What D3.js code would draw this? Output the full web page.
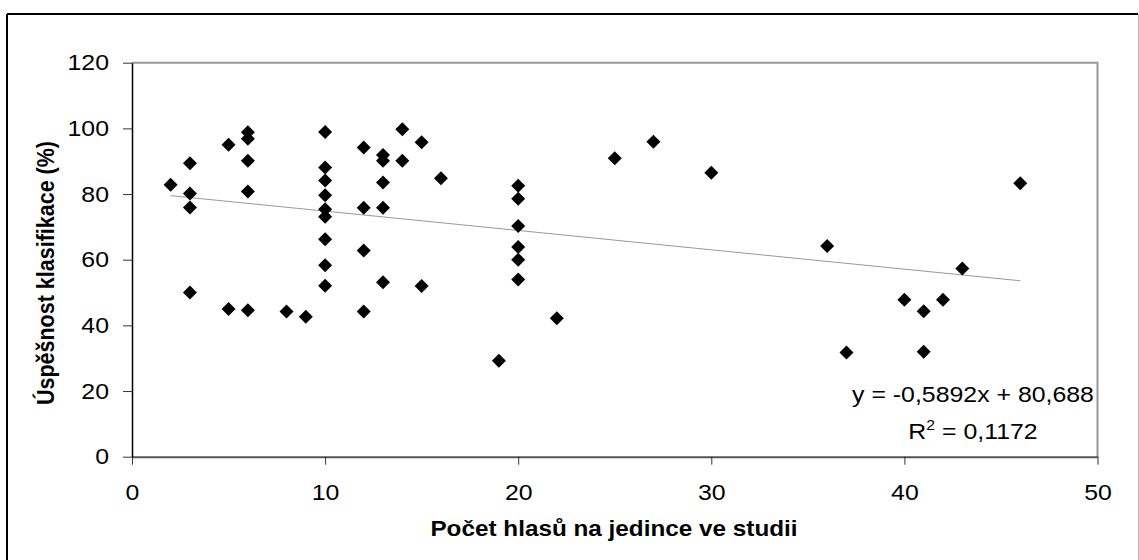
<!DOCTYPE html>
<html>
<head>
<meta charset="utf-8">
<script src="https://cdn.jsdelivr.net/npm/d3@7"></script>
<style>
  body { margin: 0; background: #fff; }
  text { font-family: "Liberation Sans", Arial, sans-serif; fill: #000; }
</style>
</head>
<body>
<div id="chart"></div>
<script>
// hlasy na jedince (x) a uspesnost klasifikace v % (y)
const voices = [2, 3, 3, 3, 3, 5, 5, 6, 6, 6, 6, 6, 8, 9,
                10, 10, 10, 10, 10, 10, 10, 10, 10,
                12, 12, 12, 12, 13, 13, 13, 13, 13, 14, 14, 15, 15, 16,
                19, 20, 20, 20, 20, 20, 20, 22, 25, 27, 30,
                36, 37, 40, 41, 41, 42, 43, 46];
const success = [82.8, 89.4, 80.2, 75.9, 50, 95, 45, 98.8, 96.8, 90.1, 80.8, 44.6, 44.2, 42.6,
                 98.9, 88.1, 84.1, 79.6, 75.4, 73.1, 66.2, 58.3, 52.1,
                 94.2, 75.8, 62.8, 44.2, 91.9, 90.1, 83.5, 75.8, 53.1, 99.7, 90.1, 95.8, 52, 84.8,
                 29.2, 82.5, 78.6, 70.3, 63.9, 60, 54, 42.2, 90.9, 95.9, 86.5,
                 64.2, 31.7, 47.8, 44.3, 32, 47.8, 57.3, 83.3];
const xTicks = [0, 10, 20, 30, 40, 50];
const yTicks = [0, 20, 40, 60, 80, 100, 120];
const slope = -0.5892, intercept = 80.688;
const eqLabel = "y = -0,5892x + 80,688";
const r2Value = " = 0,1172";
const xTitle = "Počet hlasů na jedince ve studii";
const yTitle = "Úspěšnost klasifikace (%)";

const W = 1139, H = 560;
const stretch = 1.13; // text in the picture is a bit wider than tall
const plot = {left: 132, right: 1097.5, top: 62.7, bottom: 456.7};

const svg = d3.select("#chart").append("svg")
    .attr("width", W).attr("height", H);

// outer frame
svg.append("line").attr("x1", 7).attr("y1", 14).attr("x2", 7).attr("y2", H)
    .attr("stroke", "#000").attr("stroke-width", 2);
svg.append("line").attr("x1", 7).attr("y1", 14).attr("x2", 1138).attr("y2", 14)
    .attr("stroke", "#000").attr("stroke-width", 2);
svg.append("line").attr("x1", 1138.5).attr("y1", 14).attr("x2", 1138.5).attr("y2", H)
    .attr("stroke", "#bbb").attr("stroke-width", 1);

let xScale = d3.scaleLinear().domain([0, 50]).range([plot.left, plot.right]);
let yScale = d3.scaleLinear().domain([0, 120]).range([plot.bottom, plot.top]);

// top + right border of plot area
svg.append("path")
    .attr("d", `M${plot.left},${plot.top}H${plot.right}V${plot.bottom}`)
    .attr("fill", "none").attr("stroke", "#999").attr("stroke-width", 2);

function stretchText(sel, anchorX) {
  sel.each(function() {
    let t = d3.select(this);
    let x = +t.attr("x") || 0;
    t.attr("x", 0).attr("transform", `translate(${x},0) scale(${stretch},1)`);
  });
}

let xAxis = svg.append("g")
    .attr("transform", `translate(0,${plot.bottom})`)
    .call(d3.axisBottom(xScale).tickValues(xTicks).tickSize(8).tickPadding(20).tickSizeOuter(0));
xAxis.select(".domain").attr("stroke", "#555").attr("stroke-width", 2);
xAxis.selectAll(".tick line").attr("stroke", "#333");
xAxis.selectAll(".tick text").attr("font-size", 22).attr("font-family", "Liberation Sans, Arial, sans-serif")
    .attr("dy", "0.71em");
xAxis.selectAll(".tick text").attr("transform", `scale(${stretch},1)`);

let yAxis = svg.append("g")
    .attr("transform", `translate(${plot.left},0)`)
    .call(d3.axisLeft(yScale).tickValues(yTicks).tickSize(9).tickPadding(14).tickSizeOuter(0));
yAxis.select(".domain").attr("stroke", "#000").attr("stroke-width", 1.5);
yAxis.selectAll(".tick line").attr("stroke", "#333");
yAxis.selectAll(".tick text").attr("font-size", 22).attr("font-family", "Liberation Sans, Arial, sans-serif")
    .call(stretchText);

// trend line
let xExt = d3.extent(voices);
svg.append("line")
    .attr("x1", xScale(xExt[0])).attr("y1", yScale(slope * xExt[0] + intercept))
    .attr("x2", xScale(xExt[1])).attr("y2", yScale(slope * xExt[1] + intercept))
    .attr("stroke", "#999").attr("stroke-width", 1);

// points
const diamond = "M0,-7L7,0L0,7L-7,0Z";
svg.append("g").selectAll("path")
    .data(voices.map((v, i) => [v, success[i]]))
    .join("path")
    .attr("d", diamond)
    .attr("transform", d => `translate(${xScale(d[0])},${yScale(d[1])})`)
    .attr("fill", "#000");

// equation
let eq = svg.append("text")
    .attr("transform", `translate(973,401.5) scale(${stretch},1)`)
    .attr("text-anchor", "middle").attr("font-size", 22)
    .text(eqLabel);
let r2 = svg.append("text")
    .attr("transform", `translate(973,438.5) scale(${stretch},1)`)
    .attr("text-anchor", "middle").attr("font-size", 22);
r2.append("tspan").text("R");
r2.append("tspan").attr("font-size", 14).attr("dy", -9).text("2");
r2.append("tspan").attr("dy", 9).text(r2Value);

// axis titles
svg.append("text")
    .attr("transform", `translate(614,536) scale(${stretch},1)`)
    .attr("text-anchor", "middle").attr("font-size", 21.5).attr("font-weight", "bold")
    .text(xTitle);
svg.append("text")
    .attr("transform", `translate(54,273) scale(${stretch},1) rotate(-90)`)
    .attr("text-anchor", "middle").attr("font-size", 21.5).attr("font-weight", "bold")
    .text(yTitle);
</script>
</body>
</html>
